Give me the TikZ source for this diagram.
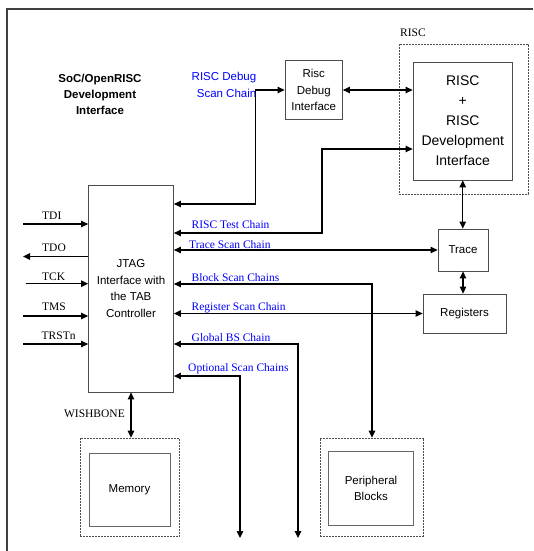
\documentclass[tikz,border=0pt]{standalone}
\usepackage{fontspec}
\setmainfont{Liberation Serif}
\setsansfont{Liberation Sans}
\usetikzlibrary{arrows.meta}

\tikzset{
  blk/.style={draw=black!70, line width=0.8pt, align=center, inner sep=0pt,
    font=\sffamily\fontsize{11.5}{16.5}\selectfont},
  dashblk/.style={draw=black!70, line width=0.7pt, dash pattern=on 2pt off 1pt, inner sep=0pt},
  innerblk/.style={blk, draw=black!60, line width=1pt},
  sig/.style={line width=1.2pt, -{Triangle[length=7pt,width=6.5pt]}},
  bisig/.style={line width=1.2pt, {Triangle[length=7pt,width=6.5pt]}-{Triangle[length=7pt,width=6.5pt]}},
  lbl/.style={font=\fontsize{11.5}{14}\selectfont, inner sep=0pt, anchor=base west},
  chainlbl/.style={lbl, text=blue},
  frame/.style={draw=black!75, line width=1.2pt}
}

\begin{document}
\begin{tikzpicture}[x=1pt,y=-1pt]
\useasboundingbox (0,0) rectangle (533,551);

% Outer frame (cut off at right and bottom)
\draw[frame] (7,551) -- (7,9) -- (533,9);

% Title
\node[font=\sffamily\bfseries\fontsize{11.5}{16}\selectfont, align=center] (title) at (100,94)
    {SoC/OpenRISC\\Development\\Interface};

% RISC block
\node[dashblk, minimum width=129pt, minimum height=150pt] (riscdash) at (463.5,119) {};
\node[lbl] (risclbl) at (400,37) {RISC};
\node[blk, minimum width=99.5pt, minimum height=118pt,
      font=\sffamily\fontsize{14}{20}\selectfont] (risc) at (462.75,121)
    {RISC\\+\\RISC\\Development\\Interface};

% Debug interface
\node[blk, minimum width=57.5pt, minimum height=59pt] (rdi) at (313.75,90) {Risc\\Debug\\Interface};
\node[font=\sffamily\fontsize{11.5}{17}\selectfont, text=blue, align=right, anchor=east,
      inner sep=0pt] (dbglbl) at (256.5,85) {RISC Debug\\Scan Chain};

% JTAG / TAP
\node[blk, minimum width=85pt, minimum height=207pt] (jtag) at (131,288.5)
    {JTAG\\Interface with\\the TAB\\Controller};

% Trace and registers
\node[blk, minimum width=50pt, minimum height=42pt] (trace) at (463,250) {Trace};
\node[blk, minimum width=83pt, minimum height=39pt] (regs) at (464.5,313.5) {Registers};

% Memory and peripherals
\node[dashblk, minimum width=99.6pt, minimum height=98pt] (memdash) at (129.8,487) {};
\node[innerblk, minimum width=81pt, minimum height=73pt] (mem) at (129.5,489.5) {Memory};
\node[dashblk, minimum width=103.4pt, minimum height=98pt] (periphdash) at (372,487) {};
\node[innerblk, minimum width=85pt, minimum height=74pt] (periph) at (371,488.5) {Peripheral\\Blocks};

% JTAG pins
\coordinate (tdi) at (23,224);
\coordinate (tdo) at (23,256.5);
\coordinate (tck) at (25.5,283.7);
\coordinate (tms) at (23,316);
\coordinate (trst) at (23,344);
\draw[sig] (tdi) -- (tdi -| jtag.west);
\draw[sig] (tdo -| jtag.west) -- (tdo);
\draw[sig] (tck) -- (tck -| jtag.west);
\draw[sig] (tms) -- (tms -| jtag.west);
\draw[sig] (trst) -- (trst -| jtag.west);
\node[lbl] (tdilbl) at (42,219) {TDI};
\node[lbl] (tdolbl) at (42,251.5) {TDO};
\node[lbl] (tcklbl) at (42,280.8) {TCK};
\node[lbl] (tmslbl) at (42,310.3) {TMS};
\node[lbl] (trstlbl) at (41.5,339.8) {TRSTn};

% Scan chains
\draw[bisig] (rdi.west) -- ++(-29,0) |- (jtag.east |- 0,204);
\draw[bisig] (rdi.east) -- (rdi.east -| risc.west);
\draw[bisig] (jtag.east |- 0,233) -| (322,149) -- (risc.west |- 0,149);
\draw[bisig] (jtag.east |- trace.west) -- (trace.west);
\draw[bisig] (jtag.east |- 0,284) -| (periphdash.north);
\draw[bisig] (jtag.east |- regs.west) -- (regs.west);
\coordinate (gbsend) at (298,538);
\coordinate (optend) at (240,538);
\draw[bisig] (jtag.east |- 0,344) -| (gbsend);
\draw[bisig] (jtag.east |- 0,376) -| (optend);
\draw[bisig] (risc.south) -- (risc.south |- trace.north);
\draw[bisig] (trace.south) -- (trace.south |- regs.north);
\draw[bisig] (jtag.south) -- (jtag.south |- memdash.north);

\node[chainlbl] (tstlbl) at (191.5,228) {RISC Test Chain};
\node[chainlbl] (trclbl) at (189,248) {Trace Scan Chain};
\node[chainlbl] (blklbl) at (191.5,281) {Block Scan Chains};
\node[chainlbl] (reglbl) at (191.5,310) {Register Scan Chain};
\node[chainlbl] (gbslbl) at (191.5,341) {Global BS Chain};
\node[chainlbl] (optlbl) at (188,371) {Optional Scan Chains};
\node[lbl, anchor=base east] (wblbl) at (125,417) {WISHBONE};

\end{tikzpicture}
\end{document}
